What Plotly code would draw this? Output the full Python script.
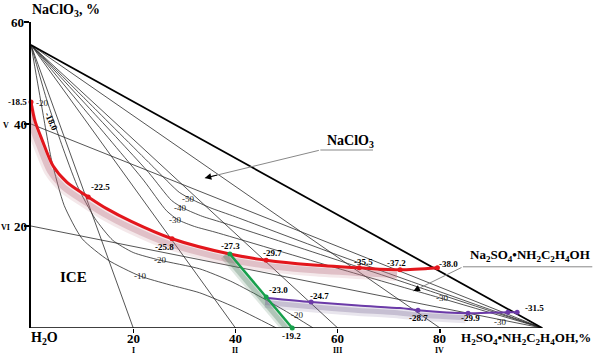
import plotly.graph_objects as go

# ---------------- data (composition, %) ----------------
apex_y = 55.5            # NaClO3 apex on the y axis
base_x = 100.0           # H2SO4*NH2C2H4OH vertex on the x axis
sections_x = [20, 40, 60, 80]          # sections I-IV (from apex)
sections_x_names = ["I", "II", "III", "IV"]
sections_y = [40, 20]                  # sections V-VI (from base vertex)
sections_y_names = ["V", "VI"]

# NaClO3 / ice and NaClO3 / Na2SO4*MEA boundary (red)
red_x = [0, 0.8, 2.2, 4.3, 7.0, 11.2, 14.8, 19.6, 27.6, 38.9, 46.0, 54.6, 64.2, 72.2, 79.5]
red_y = [44.3, 40.5, 36.8, 31.8, 28.6, 25.7, 23.4, 20.9, 17.5, 14.5, 13.3, 12.4, 11.8, 11.4, 11.8]
red_pts_x = [0, 11.2, 27.6, 46.0, 64.2, 72.2, 79.5]
red_pts_y = [44.3, 25.7, 17.5, 13.3, 11.8, 11.4, 11.8]

# ice / Na2SO4*MEA boundary (green)
green_x = [38.9, 46.0, 51.1]
green_y = [14.5, 6.1, 0.0]

# lower boundary (purple)
purple_x = [46.3, 54.8, 64.0, 72.2, 75.7, 85.5, 93.3, 95.1]
purple_y = [5.9, 5.1, 4.4, 3.9, 3.5, 2.9, 3.1, 3.1]
purple_pts_x = [54.8, 75.7, 85.5, 93.3, 95.1]
purple_pts_y = [5.1, 3.5, 2.9, 3.1, 3.1]

# isotherms
iso_ice_m10_x = [0, 2.0, 4.0, 6.5, 10.0, 15.1, 21.3, 27.0, 33.0, 40.0, 48.0]
iso_ice_m10_y = [55.5, 44.0, 33.0, 24.0, 17.5, 13.3, 10.2, 8.5, 6.9, 4.0, 0.0]
iso_ice_m20_x = [0, 3.0, 6.0, 9.0, 12.5, 16.0, 20.0, 25.2, 33.0, 39.0, 44.0, 50.0, 55.2]
iso_ice_m20_y = [55.5, 45.0, 36.0, 28.0, 21.5, 17.2, 14.8, 13.3, 11.6, 9.2, 6.6, 3.2, 0.0]
iso_m50_x = [0, 12.0, 24.0, 29.0, 31.5, 35.0, 40.0, 60.0, 80.0, 100.0]
iso_m50_y = [55.5, 43.5, 31.5, 26.6, 25.2, 23.6, 21.8, 14.3, 7.1, 0.0]
iso_m40_x = [0, 11.5, 23.0, 27.5, 30.0, 33.5, 38.0, 60.0, 80.0, 100.0]
iso_m40_y = [55.5, 43.0, 30.5, 25.0, 23.4, 21.9, 20.5, 13.3, 6.6, 0.0]
iso_m30_x = [0, 11.0, 22.0, 26.5, 28.8, 32.0, 36.0, 60.0, 80.0, 100.0]
iso_m30_y = [55.5, 42.2, 29.0, 23.0, 21.2, 19.9, 18.8, 11.7, 5.9, 0.0]

# point labels (temperature, deg C)
temp_labels = ["-18.5", "-22.5", "-25.8", "-27.3", "-29.7", "-35.5", "-37.2", "-38.0",
               "-23.0", "-24.7", "-19.2", "-28.7", "-29.9", "-31.5"]
temp_label_px = [(17, 102), (100, 187), (164, 247), (230, 246), (272, 253), (363, 262),
                 (396, 263), (449, 264), (278, 290), (319, 296), (291, 336), (418, 318),
                 (470, 318), (534, 308)]
iso_labels = ["-50", "-40", "-30", "-20", "-20", "-10", "-30", "-30", "-20"]
iso_label_px = [(188, 199), (180, 208), (175, 220), (42, 103), (160, 260), (140, 276),
                (442, 298), (500, 322), (297, 315)]

# ---------------- figure ----------------
FONT = "Liberation Serif"
LINE = "#2a2a2a"
fig = go.Figure()


def add_line(x, y, color=LINE, width=0.8, shape="linear", smoothing=0.7):
    ln = dict(color=color, width=width, shape=shape)
    if shape == "spline":
        ln["smoothing"] = smoothing
    fig.add_trace(go.Scatter(x=x, y=y, mode="lines", hoverinfo="skip", line=ln))


# sections from apex and from base vertex
for sx in sections_x:
    add_line([0, sx], [apex_y, 0])
for sy in sections_y:
    add_line([0, base_x], [sy, 0])

# isotherms
for xs, ys in [(iso_ice_m10_x, iso_ice_m10_y), (iso_ice_m20_x, iso_ice_m20_y),
               (iso_m50_x, iso_m50_y), (iso_m40_x, iso_m40_y), (iso_m30_x, iso_m30_y)]:
    add_line(xs, ys, shape="spline", smoothing=0.6)

# triangle side and x axis
add_line([0, base_x], [apex_y, 0], color="black", width=1.8)
add_line([0, base_x], [0, 0], color="black", width=1.6)

# shadows (style offsets)
rs_x = [v - 0.6 for v, w in zip(red_x, red_y) if v <= 74]
rs_y = [w - 1.0 for v, w in zip(red_x, red_y) if v <= 74]
add_line(rs_x, rs_y, color="rgba(185,110,125,0.16)", width=12, shape="spline")
add_line(rs_x, rs_y, color="rgba(185,110,125,0.32)", width=6, shape="spline")
gs_x = [v - 1.0 for v in green_x]
gs_y = [w - 0.2 for w in green_y]
add_line(gs_x, gs_y, color="rgba(70,120,90,0.18)", width=10)
add_line(gs_x, gs_y, color="rgba(70,120,90,0.30)", width=5)
ps_x = [v - 0.5 for v in purple_x if v <= 92]
ps_y = [w - 0.9 for v, w in zip(purple_x, purple_y) if v <= 92]
add_line(ps_x, ps_y, color="rgba(110,95,140,0.16)", width=11, shape="spline")
add_line(ps_x, ps_y, color="rgba(110,95,140,0.28)", width=5, shape="spline")

# boundary curves
add_line(red_x, red_y, color="#e3161c", width=3, shape="spline", smoothing=0.8)
add_line(green_x, green_y, color="#17a04c", width=2.5)
add_line(purple_x, purple_y, color="#6b3aa8", width=2, shape="spline", smoothing=0.8)

fig.add_trace(go.Scatter(x=red_pts_x, y=red_pts_y, mode="markers", cliponaxis=False,
                         marker=dict(color="#e3161c", size=5), hoverinfo="skip"))
fig.add_trace(go.Scatter(x=green_x, y=green_y, mode="markers", cliponaxis=False,
                         marker=dict(color="#17a04c", size=5), hoverinfo="skip"))
fig.add_trace(go.Scatter(x=purple_pts_x, y=purple_pts_y, mode="markers", cliponaxis=False,
                         marker=dict(color="#6b3aa8", size=5), hoverinfo="skip"))

# leader underlines
add_line([56.6, 66.9], [34.9, 34.9], color="#888888", width=1)
add_line([84.5, 109.8], [12.0, 12.0], color="#888888", width=1)

ann = []


def P(px, py):
    return (px - 31) / 570.0, (328 - py) / 306.0


def text(px, py, s, size=9, bold=True, color="black", angle=0):
    x, y = P(px, py)
    ann.append(dict(xref="paper", yref="paper", x=x, y=y, text=("<b>%s</b>" % s) if bold else s,
                    showarrow=False, textangle=angle,
                    font=dict(family=FONT, size=size, color=color),
                    xanchor="center", yanchor="middle"))


for s, (px, py) in zip(temp_labels, temp_label_px):
    text(px, py, s, size=9)
for s, (px, py) in zip(iso_labels, iso_label_px):
    text(px, py, s, size=9, bold=False, color="#222")
text(51, 121, "-18.0", size=9, angle=65)

# axis tick labels
for sx, nm in zip(sections_x, sections_x_names):
    px = 31 + sx * 5.11
    text(px, 338, str(sx), size=13)
    text(px, 350, nm, size=8)
text(17, 22, "60", size=13)
for sy, nm in zip(sections_y, sections_y_names):
    py = 328 - sy * 5.1
    text(20, py, str(sy), size=13)
    text(6 if nm == "V" else 5, py + 1, nm, size=8)

# titles
text(66, 11, "NaClO<sub>3</sub>, %", size=14)
text(44, 338, "H<sub>2</sub>O", size=14)
text(526, 338, "H<sub>2</sub>SO<sub>4</sub>•NH<sub>2</sub>C<sub>2</sub>H<sub>4</sub>OH,%", size=13)
text(73, 277, "ICE", size=15)
text(350, 141, "NaClO<sub>3</sub>", size=14)
text(530, 256, "Na<sub>2</sub>SO<sub>4</sub>•NH<sub>2</sub>C<sub>2</sub>H<sub>4</sub>OH", size=13)

# leader arrows
for (hx, hy, tx, ty) in [(34.0, 29.4, 56.6, 34.9), (74.8, 7.25, 84.5, 12.0)]:
    ann.append(dict(xref="x", yref="y", axref="x", ayref="y", x=hx, y=hy, ax=tx, ay=ty,
                    text="", showarrow=True, arrowhead=0, arrowwidth=1, arrowcolor="#888888"))
    fx = hx + (tx - hx) * 0.12
    fy = hy + (ty - hy) * 0.12
    ann.append(dict(xref="x", yref="y", axref="x", ayref="y", x=hx, y=hy, ax=fx, ay=fy,
                    text="", showarrow=True, arrowhead=2, arrowsize=1.3, arrowwidth=1,
                    arrowcolor="black"))

fig.update_layout(
    width=601, height=355, margin=dict(l=31, r=0, t=22, b=27),
    plot_bgcolor="white", paper_bgcolor="white", showlegend=False,
    annotations=ann, hovermode=False,
    xaxis=dict(range=[0, 111.5], showgrid=False, zeroline=False, showline=False,
               tickvals=sections_x, ticks="outside", ticklen=4, tickcolor="black",
               tickwidth=1.2, showticklabels=False, fixedrange=True),
    yaxis=dict(range=[0, 60], showgrid=False, zeroline=False, showline=True,
               linecolor="black", linewidth=1.6, tickvals=[20, 40, 60], ticks="outside",
               ticklen=5, tickcolor="black", tickwidth=1.2, showticklabels=False,
               fixedrange=True),
)

fig.write_html("out.html", config={"displayModeBar": False, "staticPlot": True},
               post_script="document.body.style.margin='0px';document.body.style.overflow='hidden';")
